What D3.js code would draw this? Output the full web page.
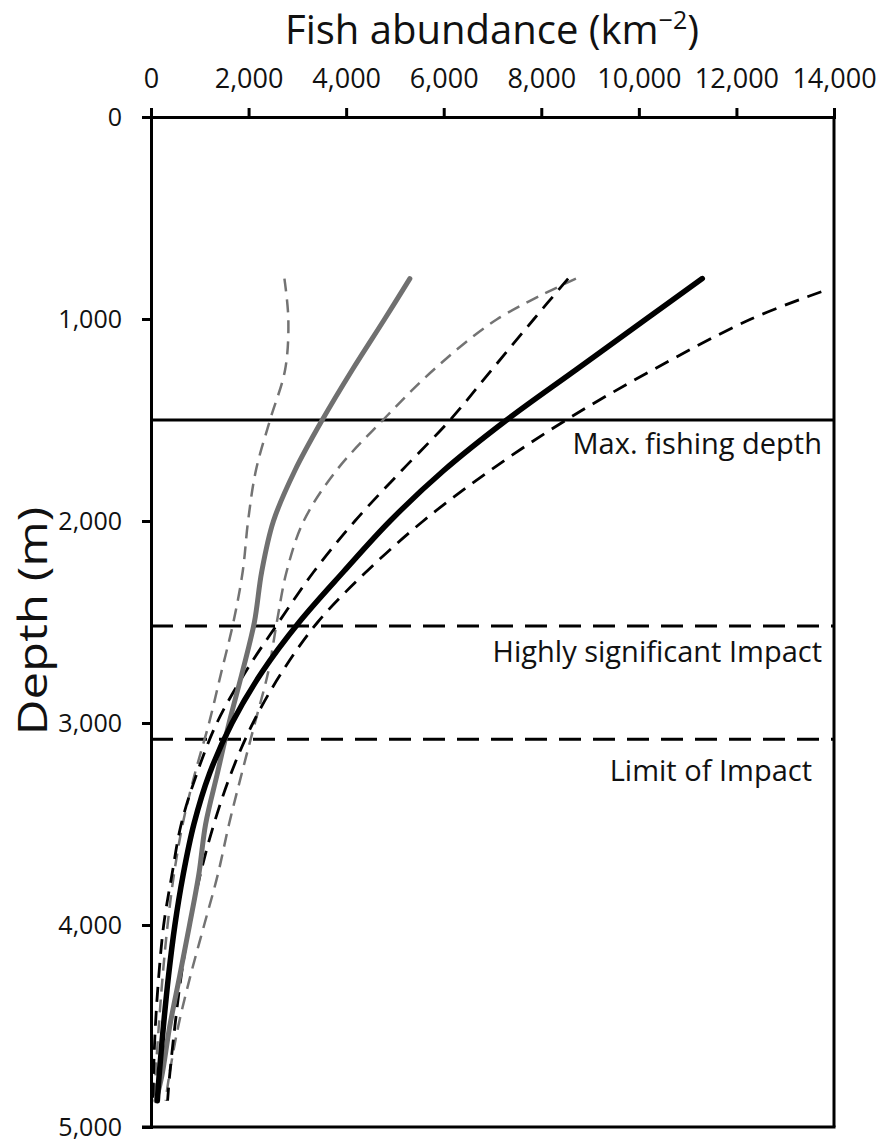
<!DOCTYPE html>
<html>
<head>
<meta charset="utf-8">
<script src="https://cdn.jsdelivr.net/npm/d3@7"></script>
<style>
  html, body { margin: 0; padding: 0; background: #fff; }
  svg { display: block; }
  text { font-family: "Open Sans", "Noto Sans", sans-serif; fill: #111; }
</style>
</head>
<body>
<svg id="chart" width="884" height="1144"></svg>
<script>
// ---- data (depth in m, abundance in fish per km^2) ----
const xTicks = [0, 2000, 4000, 6000, 8000, 10000, 12000, 14000];
const yTicks = [0, 1000, 2000, 3000, 4000, 5000];

const depths      = [800, 1000, 1250, 1500, 1750, 2000, 2250, 2500, 2750, 3000, 3250, 3500, 3750, 4000, 4250, 4500, 4750, 4870];
const depthsUpper = [865, 1000, 1250, 1500, 1750, 2000, 2250, 2500, 2750, 3000, 3250, 3500, 3750, 4000, 4250, 4500, 4750, 4870];

// black series: fit and confidence limits
const blackFit   = [11300, 10150, 8720, 7290, 6000, 4900, 3950, 3040, 2270, 1660, 1200, 880, 660, 490, 360, 255, 165, 130];
const blackUpper = [13740, 12300, 10300, 8510, 6950, 5580, 4420, 3420, 2680, 2090, 1640, 1290, 1010, 790, 620, 490, 380, 340];
const blackLower = [8550, 7850, 6990, 6130, 5140, 4180, 3340, 2620, 1930, 1350, 940, 620, 430, 260, 160, 90, 50, 40];

// grey series: fit and confidence limits
const greyFit    = [5306, 4790, 4130, 3510, 2950, 2510, 2270, 2120, 1870, 1600, 1360, 1120, 980, 790, 590, 385, 220, 100];
const greyUpper  = [8710, 7100, 5800, 4755, 3800, 3130, 2780, 2580, 2400, 2130, 1860, 1600, 1370, 1090, 810, 560, 370, 300];
const greyLower  = [2735, 2815, 2750, 2440, 2150, 1990, 1880, 1690, 1440, 1190, 900, 650, 470, 340, 240, 160, 90, 60];

// reference depths
const refDepths = [1500, 2520, 3080];
const refLabels = ["Max. fishing depth", "Highly significant Impact", "Limit of Impact"];
const refStyles = ["solid", "dashed", "dashed"];

// ---- layout ----
const svg = d3.select("#chart");
const mLeft = 151, mRight = 834, mTop = 117, mBottom = 1127;

const x = d3.scaleLinear().domain([0, 14000]).range([mLeft, mRight]);
const y = d3.scaleLinear().domain([0, 5000]).range([mTop, mBottom]);

svg.append("clipPath").attr("id", "plotclip")
  .append("rect").attr("x", mLeft).attr("y", mTop).attr("width", mRight - mLeft).attr("height", mBottom - mTop);

// reference lines
const plot = svg.append("g");
refDepths.forEach((d, i) => {
  plot.append("line")
    .attr("x1", mLeft).attr("x2", mRight)
    .attr("y1", y(d)).attr("y2", y(d))
    .attr("stroke", "#000")
    .attr("stroke-width", 3)
    .attr("stroke-dasharray", refStyles[i] === "dashed" ? "22,12" : null);
});
const labelX = [822, 822, 812];
const labelDy = [34, 36, 42];
refDepths.forEach((d, i) => {
  plot.append("text")
    .attr("x", labelX[i]).attr("y", y(d) + labelDy[i])
    .attr("text-anchor", "end")
    .style("font-size", "29px")
    .text(refLabels[i]);
});

// curves
const lineGen = d3.line()
  .x(p => x(p[0]))
  .y(p => y(p[1]))
  .curve(d3.curveCatmullRom.alpha(0.5));

const series = [
  { v: greyLower,  d: depths,      color: "#737373", w: 2.5, dash: "13,8" },
  { v: greyUpper,  d: depths,      color: "#737373", w: 2.5, dash: "13,8" },
  { v: blackLower, d: depths,      color: "#000",    w: 2.8, dash: "15,9" },
  { v: blackUpper, d: depthsUpper, color: "#000",    w: 2.8, dash: "15,9" },
  { v: greyFit,    d: depths,      color: "#707070", w: 5,   dash: null },
  { v: blackFit,   d: depths,      color: "#000",    w: 5.5, dash: null }
];
const curves = svg.append("g").attr("clip-path", "url(#plotclip)");
series.forEach(s => {
  const pts = s.v.map((v, i) => [v, s.d[i]]);
  curves.append("path")
    .attr("d", lineGen(pts))
    .attr("fill", "none")
    .attr("stroke", s.color)
    .attr("stroke-width", s.w)
    .attr("stroke-linecap", s.dash ? "butt" : "round")
    .attr("stroke-dasharray", s.dash);
});

// axes
const xAxis = svg.append("g").attr("transform", `translate(0,${mTop})`)
  .call(d3.axisTop(x).tickValues(xTicks).tickSize(9).tickPadding(20)
    .tickFormat(d3.format(",")));
const yAxis = svg.append("g").attr("transform", `translate(${mLeft},0)`)
  .call(d3.axisLeft(y).tickValues(yTicks).tickSize(9).tickPadding(20)
    .tickFormat(d3.format(",")));
[xAxis, yAxis].forEach(a => {
  a.select(".domain").attr("stroke", "#000").attr("stroke-width", 3);
  a.selectAll(".tick line").attr("stroke", "#000").attr("stroke-width", 3);
  a.selectAll(".tick text").style("font-size", "27px").attr("fill", "#111")
    .style("font-family", "'Open Sans', sans-serif");
});
yAxis.selectAll(".tick text").style("font-size", "25px");

// right and bottom frame
svg.append("line").attr("x1", mRight).attr("x2", mRight).attr("y1", mTop).attr("y2", mBottom)
  .attr("stroke", "#000").attr("stroke-width", 3);
svg.append("line").attr("x1", mLeft - 9).attr("x2", mRight + 1.5).attr("y1", mBottom).attr("y2", mBottom)
  .attr("stroke", "#000").attr("stroke-width", 3);

// titles
const title = svg.append("text")
  .attr("x", 492).attr("y", 44)
  .attr("text-anchor", "middle")
  .style("font-size", "40px");
title.append("tspan").text("Fish abundance (km");
title.append("tspan").text("−2").style("font-size", "25px").attr("dy", -15);
title.append("tspan").text(")").attr("dy", 15);

svg.append("text")
  .attr("transform", `translate(47,621) rotate(-90) scale(1.2,1)`)
  .attr("text-anchor", "middle")
  .style("font-size", "41px")
  .text("Depth (m)");
</script>
</body>
</html>
